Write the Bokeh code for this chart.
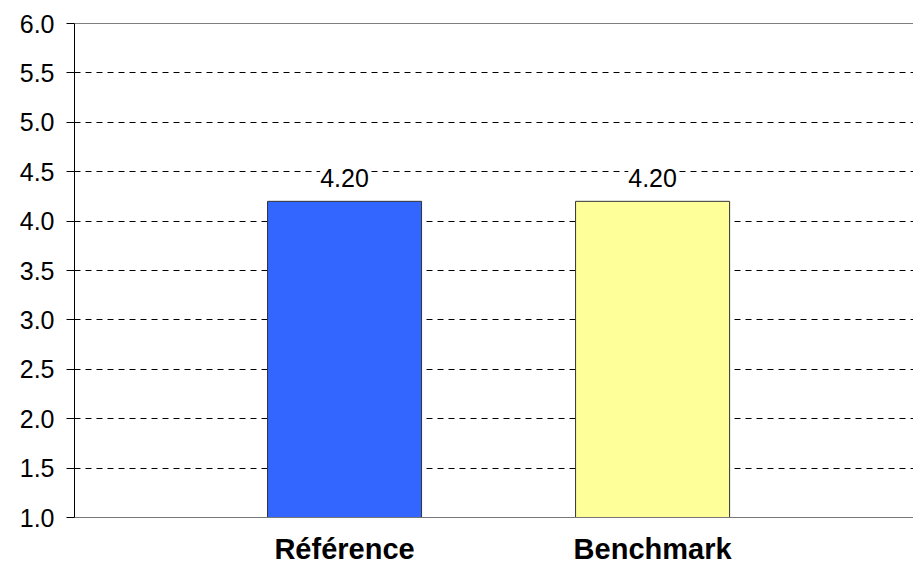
from bokeh.plotting import figure
from bokeh.models import ColumnDataSource, Range1d, FixedTicker, Span, LabelSet
from bokeh.core.properties import value
from bokeh.embed import file_html
from bokeh.resources import INLINE

# Chart data
categories = ["Référence", "Benchmark"]
scores = [4.20, 4.20]
bar_colors = ["#3366FF", "#FFFF99"]
y_ticks = [1.0, 1.5, 2.0, 2.5, 3.0, 3.5, 4.0, 4.5, 5.0, 5.5, 6.0]

positions = list(range(1, len(categories) + 1))
source = ColumnDataSource(dict(
    x=positions,
    top=scores,
    color=bar_colors,
    label=[f"{v:.2f}" for v in scores],
))

FONT = "Liberation Sans"

p = figure(
    frame_width=839, frame_height=494,
    x_range=Range1d(0.1234, 2.847), y_range=Range1d(1.0, 6.0),
    output_backend="svg", toolbar_location=None,
    min_border_left=74, min_border_right=0,
    min_border_top=23, min_border_bottom=48,
)
p.outline_line_color = None
p.background_fill_color = "white"
p.border_fill_color = "white"

p.vbar(x="x", top="top", bottom=1.0, width=0.5, source=source,
       fill_color="color", line_color="#333333", line_width=1)

# value labels above bars, on a white box that masks the grid line
labels = LabelSet(x="x", y="top", text="label", source=source,
                  text_align="center", text_baseline="bottom", y_offset=14,
                  text_font=value(FONT), text_font_size=value("25px"),
                  text_color="black", background_fill_color="white")
p.add_layout(labels)

# y axis
p.yaxis.ticker = FixedTicker(ticks=y_ticks)
p.yaxis.major_label_overrides = {t: f"{t:.1f}" for t in y_ticks}
p.yaxis.major_label_text_font = FONT
p.yaxis.major_label_text_font_size = "25px"
p.yaxis.major_label_text_color = "black"
p.yaxis.major_tick_out = 8
p.yaxis.major_tick_in = 0
p.yaxis.minor_tick_line_color = None
p.yaxis.axis_line_color = "black"
p.yaxis.major_tick_line_color = "black"
p.yaxis.major_label_standoff = 12

# x axis with category names
p.xaxis.ticker = FixedTicker(ticks=positions)
p.xaxis.major_label_overrides = {x: c for x, c in zip(positions, categories)}
p.xaxis.major_label_text_font = FONT
p.xaxis.major_label_text_font_style = "bold"
p.xaxis.major_label_text_font_size = "29px"
p.xaxis.major_label_text_color = "black"
p.xaxis.major_tick_line_color = None
p.xaxis.major_tick_out = 0
p.xaxis.minor_tick_line_color = None
p.xaxis.axis_line_color = "#777777"
p.xaxis.major_label_standoff = 15

# dashed horizontal grid
p.xgrid.grid_line_color = None
p.ygrid.ticker = FixedTicker(ticks=y_ticks)
p.ygrid.grid_line_color = "black"
p.ygrid.grid_line_dash = "6 5"
p.ygrid.grid_line_width = 1
p.ygrid.level = "underlay"

# solid top border line
p.add_layout(Span(location=6.0, dimension="width", line_color="black", line_width=1))

open("out.html", "w").write(file_html(p, INLINE))
